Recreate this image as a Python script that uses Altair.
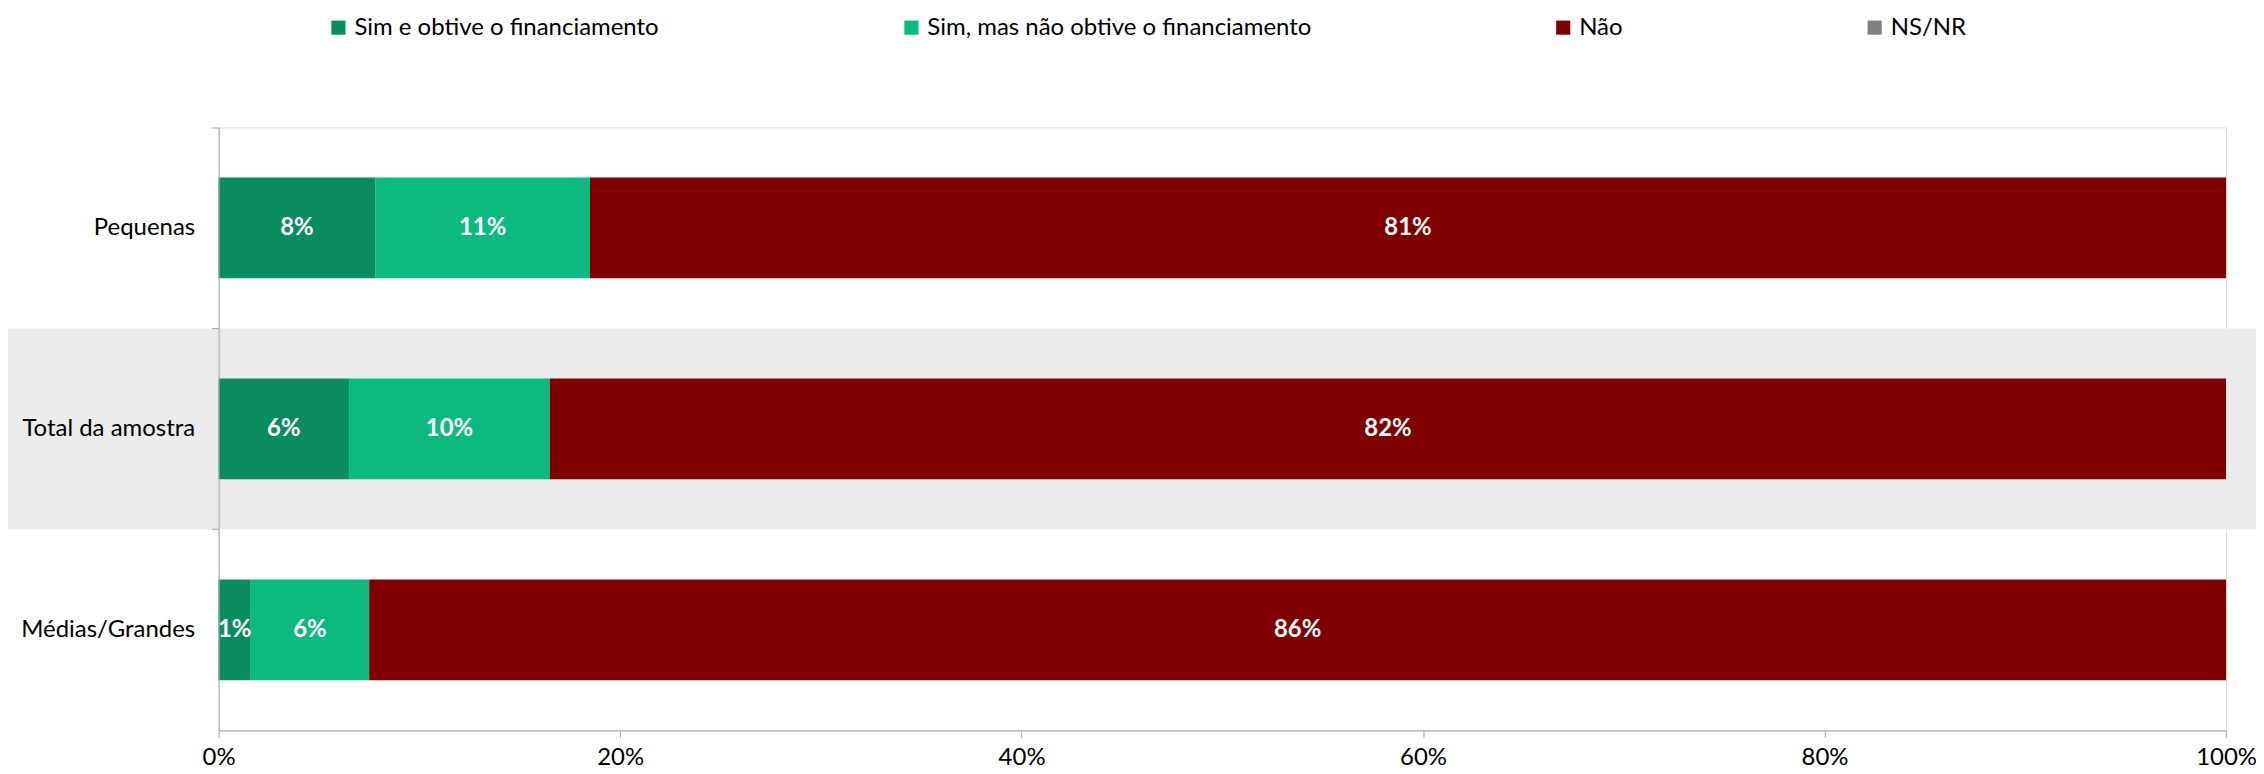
import altair as alt
import pandas as pd

categories = ["Pequenas", "Total da amostra", "Médias/Grandes"]
series = ["Sim e obtive o financiamento", "Sim, mas não obtive o financiamento", "Não", "NS/NR"]
colors = ["#0A8C5F", "#0CB97E", "#7F0000", "#808080"]

sim_obtive = [0.078, 0.065, 0.016]
sim_nao_obtive = [0.107, 0.100, 0.059]
nao = [0.815, 0.835, 0.925]
ns_nr = [0.0, 0.0, 0.0]

labels_sim_obtive = ["8%", "6%", "1%"]
labels_sim_nao_obtive = ["11%", "10%", "6%"]
labels_nao = ["81%", "82%", "86%"]
labels_ns_nr = ["", "", ""]

highlight_category = "Total da amostra"

values_by_series = [sim_obtive, sim_nao_obtive, nao, ns_nr]
labels_by_series = [labels_sim_obtive, labels_sim_nao_obtive, labels_nao, labels_ns_nr]

rows = []
for ci, cat in enumerate(categories):
    start = 0.0
    for si, s in enumerate(series):
        v = values_by_series[si][ci]
        rows.append({"cat": cat, "series": s, "order": si, "start": start,
                     "end": start + v, "mid": start + v / 2,
                     "label": labels_by_series[si][ci]})
        start += v
df = pd.DataFrame(rows)
band_df = pd.DataFrame({"cat": [highlight_category]})

FONT = "Lato"
FS = 24
W, H = 2011, 604
PAD = {"left": 211, "top": 119, "right": 30, "bottom": 40}

yscale = alt.Scale(domain=categories, paddingInner=0, paddingOuter=0)
xscale = alt.Scale(domain=[0, 1], nice=False)

band = alt.Chart(band_df).mark_rect(color="#EBEBEB").encode(
    y=alt.Y("cat:N", scale=yscale, title=None),
    x=alt.value(-PAD["left"]),
    x2=alt.value(W + PAD["right"]),
)

bars = alt.Chart(df).mark_bar(size=101).encode(
    y=alt.Y("cat:N", scale=yscale, sort=categories, title=None,
            axis=alt.Axis(bandPosition=0, tickSize=7, labelPadding=17,
                          domainColor="#A6A6A6", tickColor="#A6A6A6",
                          labelFont=FONT, labelFontSize=FS, labelColor="#000000",
                          labelLimit=400, zindex=1)),
    x=alt.X("start:Q", scale=xscale, title=None,
            axis=alt.Axis(values=[0, 0.2, 0.4, 0.6, 0.8, 1.0], format=".0%",
                          grid=False, tickSize=7, labelPadding=8,
                          domainColor="#A6A6A6", tickColor="#A6A6A6",
                          labelFont=FONT, labelFontSize=FS, labelColor="#000000",
                          labelFlush=False, zindex=1)),
    x2="end:Q",
    color=alt.Color("series:N", scale=alt.Scale(domain=series, range=colors),
                    legend=alt.Legend(title=None, orient="none", direction="horizontal",
                                      legendX=108, legendY=-112,
                                      symbolType="square", symbolSize=200,
                                      symbolStrokeWidth=0, symbolOpacity=1,
                                      labelFont=FONT, labelFontSize=FS,
                                      labelColor="#000000", labelOffset=4,
                                      columnPadding=240, padding=0,
                                      labelLimit=700)),
    order=alt.Order("order:Q"),
)

texts = alt.Chart(df).transform_filter("datum.label != ''").mark_text(
    font=FONT, fontSize=FS, fontWeight="bold", color="white",
    align="center", baseline="middle"
).encode(
    y=alt.Y("cat:N", scale=yscale),
    x=alt.X("mid:Q", scale=xscale),
    text="label:N",
)

chart = alt.layer(band, bars, texts).properties(
    width=W, height=H,
    autosize=alt.AutoSizeParams(type="none"),
    padding=PAD,
).configure_view(stroke=None).configure(background="white")

chart.save("out.html", embed_options={"renderer": "svg", "actions": False})
